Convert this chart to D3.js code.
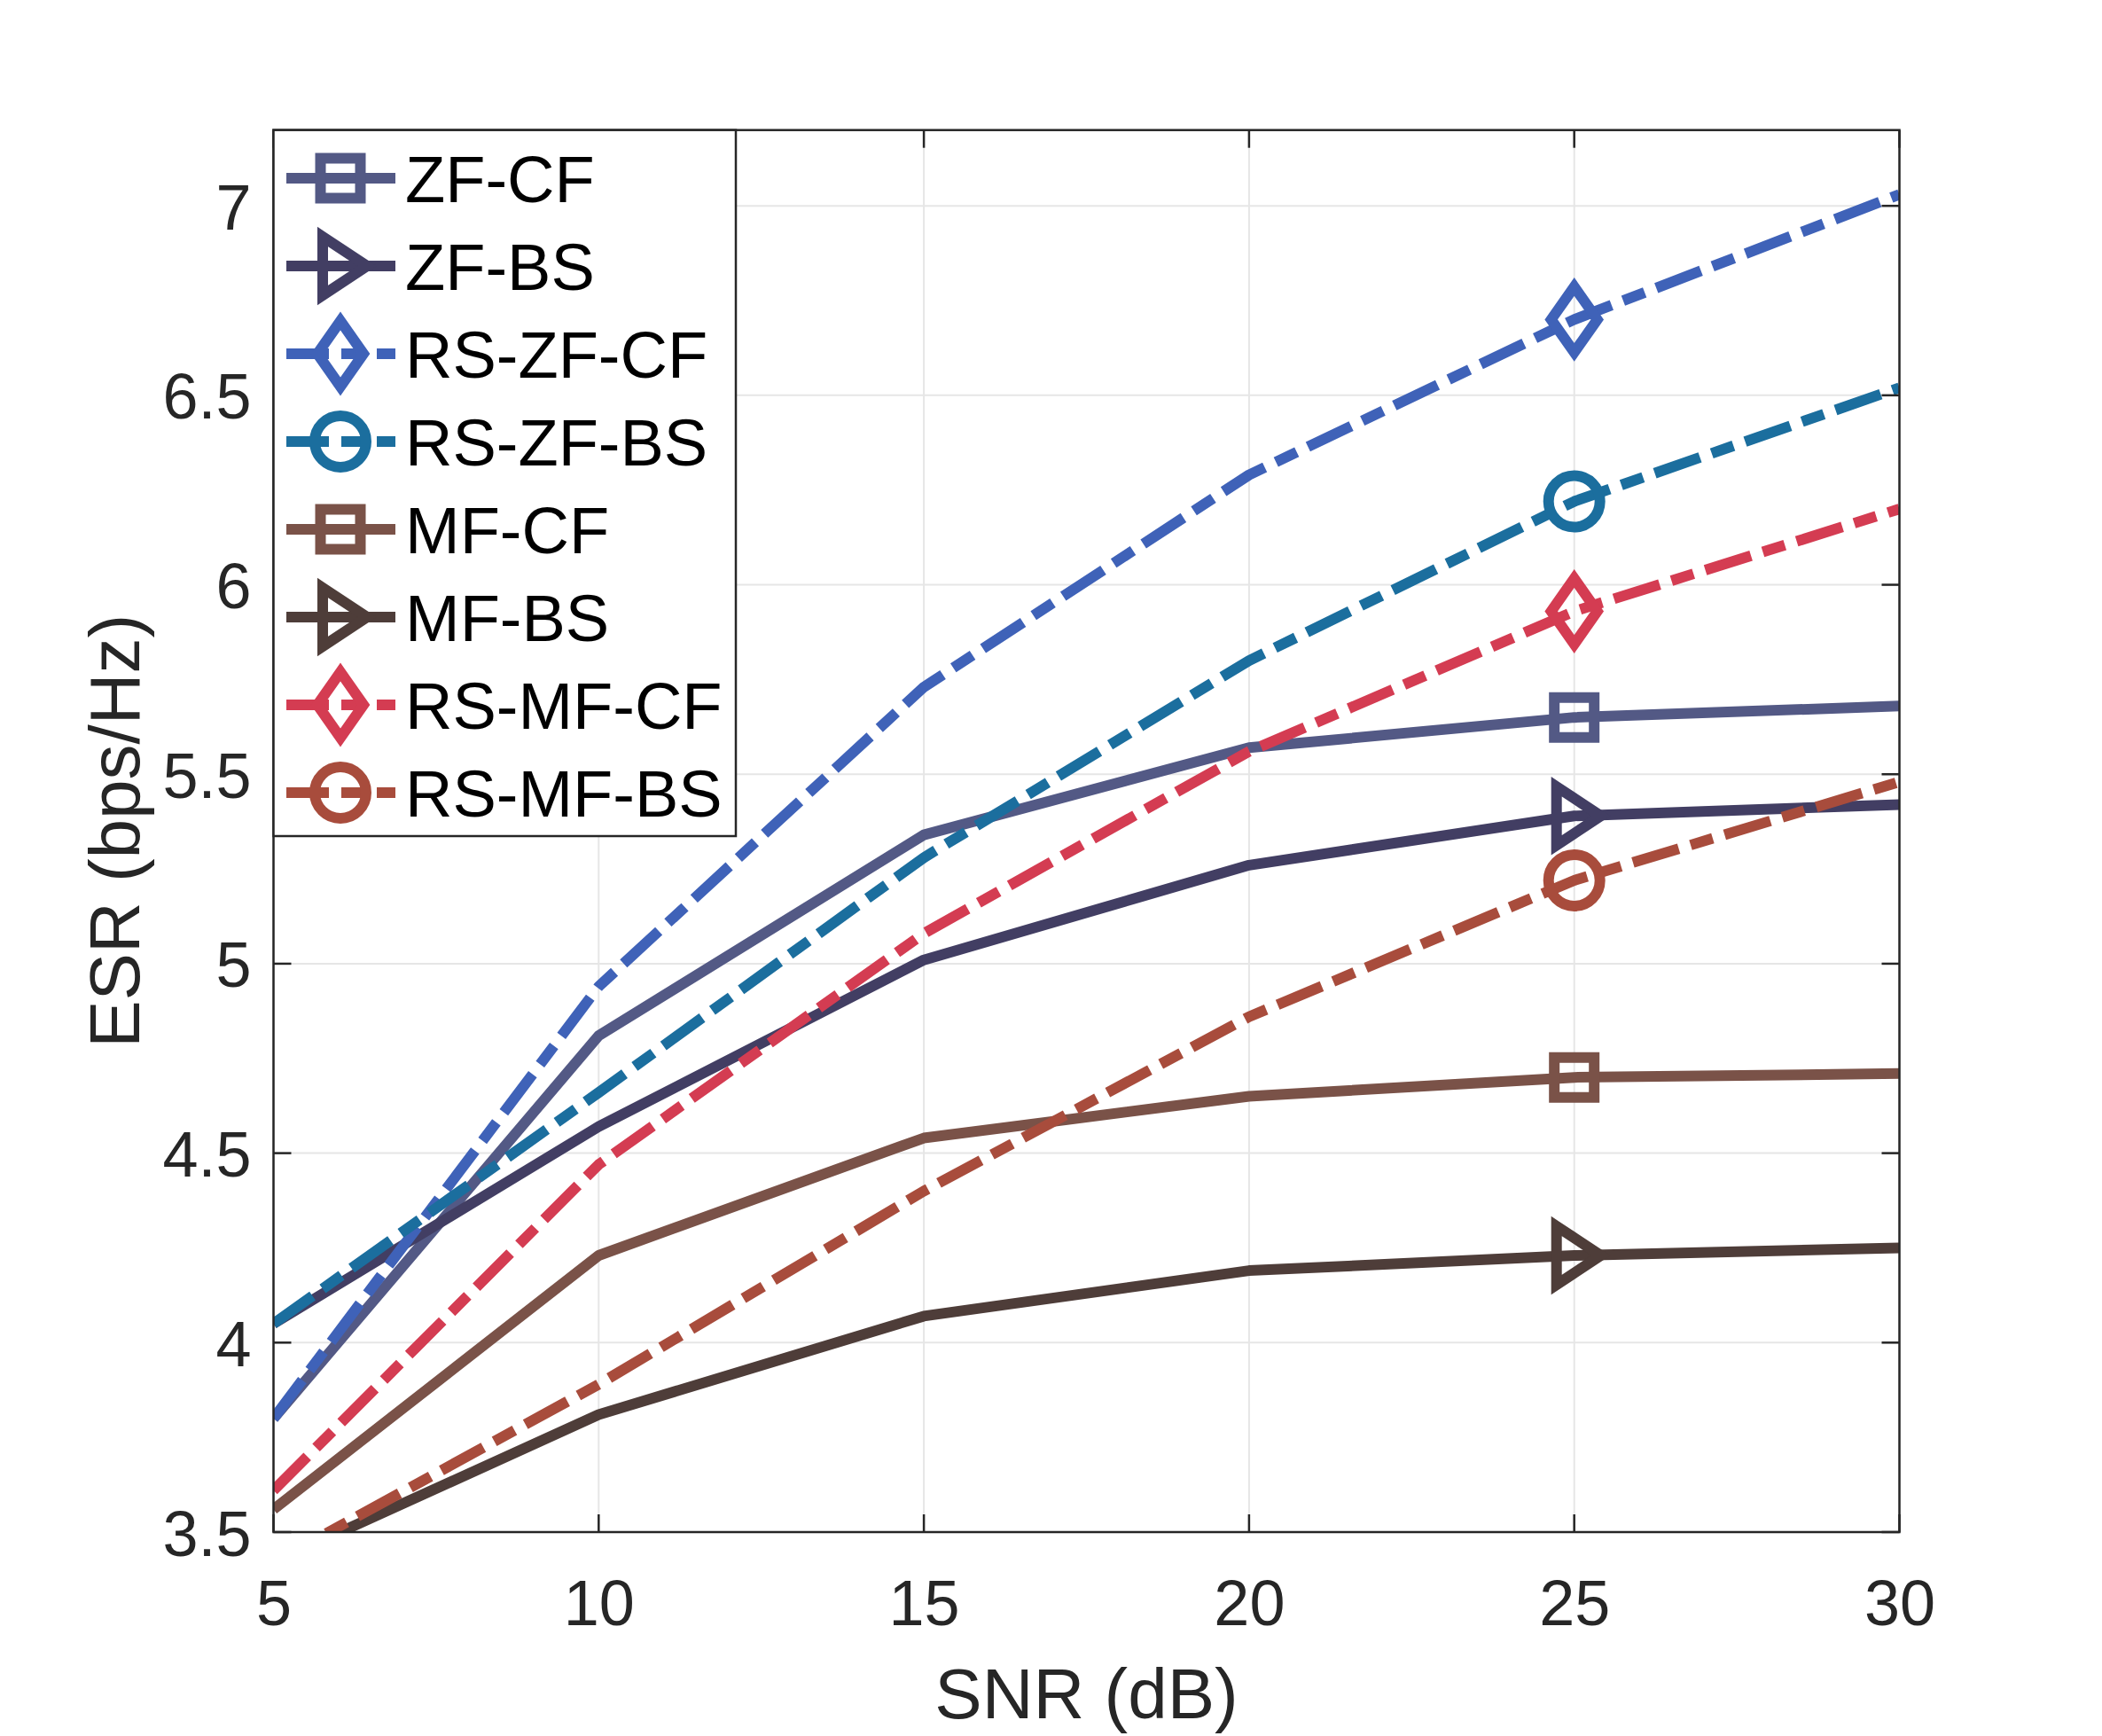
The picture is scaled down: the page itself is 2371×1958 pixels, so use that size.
<!DOCTYPE html>
<html>
<head>
<meta charset="utf-8">
<script src="https://cdn.jsdelivr.net/npm/d3@7"></script>
<style>
  body { margin: 0; background: #ffffff; }
  svg { display: block; }
  text { font-family: "Liberation Sans", Arial, Helvetica, sans-serif; }
</style>
</head>
<body>
<svg></svg>
<script>
// SNR points (dB)
let snr = [5, 10, 15, 20, 25, 30]

// ESR values (bps/Hz)
let zfCF    = [3.80, 4.81, 5.34, 5.57, 5.65, 5.68]
let zfBS    = [4.05, 4.57, 5.01, 5.26, 5.39, 5.42]
let rsZfCF  = [3.80, 4.94, 5.73, 6.29, 6.70, 7.03]
let rsZfBS  = [4.05, 4.66, 5.28, 5.80, 6.22, 6.52]
let mfCF    = [3.56, 4.23, 4.54, 4.65, 4.70, 4.71]
let mfBS    = [3.42, 3.81, 4.07, 4.19, 4.23, 4.25]
let rsMfCF  = [3.61, 4.47, 5.08, 5.56, 5.93, 6.20]
let rsMfBS  = [3.42, 3.89, 4.40, 4.86, 5.22, 5.48]

let seriesNames = ['ZF-CF', 'ZF-BS', 'RS-ZF-CF', 'RS-ZF-BS', 'MF-CF', 'MF-BS', 'RS-MF-CF', 'RS-MF-BS']
let seriesValues = [zfCF, zfBS, rsZfCF, rsZfBS, mfCF, mfBS, rsMfCF, rsMfBS]

// tick labels
let xTicks = [5, 10, 15, 20, 25, 30]
let yTicks = [3.5, 4, 4.5, 5, 5.5, 6, 6.5, 7]

// the one SNR where each curve carries its marker
let markerAt = 25

// line styling for each series
let colors = ['#535985', '#423e63', '#3f62b8', '#1b6e9e', '#7a5248', '#4e3d39', '#d43c52', '#a84c3c']
let markers = ['square', 'triangle', 'diamond', 'circle', 'square', 'triangle', 'diamond', 'circle']
let dashed = [false, false, true, true, false, false, true, true]

let width = 2371
let height = 1958
// plot box
let plotLeft = 308.5
let plotRight = 2142.5
let plotTop = 146.7
let plotBottom = 1728

let lineWidth = 12
let dashPattern = '54,14,26,14'
let axisColor = '#262626'

let svg = d3.select('svg')
            .attr('width', width)
            .attr('height', height)

let xScale = d3.scaleLinear()
               .domain([5, 30])
               .range([plotLeft, plotRight])

let yScale = d3.scaleLinear()
               .domain([3.5, 7.2])
               .range([plotBottom, plotTop])

// marker outlines centred on 0,0
let markerPath = (type) => {
    if (type === 'square') return 'M-22.5,-22.5H22.5V22.5H-22.5Z'
    if (type === 'triangle') return 'M-20,-33L30,0L-20,33Z'
    if (type === 'diamond') return 'M0,-37L26,0L0,37L-26,0Z'
    return 'M-29,0A29,29 0 1,0 29,0A29,29 0 1,0 -29,0Z'
}

let drawGrid = () => {
    let grid = svg.append('g').attr('stroke', '#e6e6e6').attr('stroke-width', 2)

    grid.selectAll('.vgrid')
        .data(xTicks)
        .enter()
        .append('line')
        .attr('x1', (d) => xScale(d))
        .attr('x2', (d) => xScale(d))
        .attr('y1', plotTop)
        .attr('y2', plotBottom)

    grid.selectAll('.hgrid')
        .data(yTicks)
        .enter()
        .append('line')
        .attr('x1', plotLeft)
        .attr('x2', plotRight)
        .attr('y1', (d) => yScale(d))
        .attr('y2', (d) => yScale(d))
}

let drawLines = () => {
    // keep the curves inside the axes like matlab does
    svg.append('clipPath')
       .attr('id', 'plotClip')
       .append('rect')
       .attr('x', plotLeft)
       .attr('y', plotTop)
       .attr('width', plotRight - plotLeft)
       .attr('height', plotBottom - plotTop)

    let line = d3.line()
                 .x((d, i) => xScale(snr[i]))
                 .y((d) => yScale(d))

    let plot = svg.append('g').attr('clip-path', 'url(#plotClip)')

    seriesValues.forEach((values, s) => {
        plot.append('path')
            .attr('d', line(values))
            .attr('fill', 'none')
            .attr('stroke', colors[s])
            .attr('stroke-width', lineWidth)
            .attr('stroke-linejoin', 'round')
            .attr('stroke-dasharray', dashed[s] ? dashPattern : null)

        let idx = snr.indexOf(markerAt)
        plot.append('path')
            .attr('d', markerPath(markers[s]))
            .attr('transform', 'translate(' + xScale(markerAt) + ',' + yScale(values[idx]) + ')')
            .attr('fill', 'none')
            .attr('stroke', colors[s])
            .attr('stroke-width', lineWidth)
    })
}

let drawAxes = () => {
    let xAxis = d3.axisBottom(xScale).tickValues(xTicks).tickSize(0).tickPadding(0)
    let yAxis = d3.axisLeft(yScale).tickValues(yTicks).tickSize(0).tickPadding(0)
                  .tickFormat((d) => d)

    // box round the plot
    svg.append('rect')
       .attr('x', plotLeft)
       .attr('y', plotTop)
       .attr('width', plotRight - plotLeft)
       .attr('height', plotBottom - plotTop)
       .attr('fill', 'none')
       .attr('stroke', axisColor)
       .attr('stroke-width', 2.5)

    // inward ticks on all four sides
    let ticks = svg.append('g').attr('stroke', axisColor).attr('stroke-width', 2.5)
    xTicks.forEach((t) => {
        ticks.append('line').attr('x1', xScale(t)).attr('x2', xScale(t)).attr('y1', plotBottom).attr('y2', plotBottom - 20)
        ticks.append('line').attr('x1', xScale(t)).attr('x2', xScale(t)).attr('y1', plotTop).attr('y2', plotTop + 20)
    })
    yTicks.forEach((t) => {
        ticks.append('line').attr('x1', plotLeft).attr('x2', plotLeft + 20).attr('y1', yScale(t)).attr('y2', yScale(t))
        ticks.append('line').attr('x1', plotRight).attr('x2', plotRight - 20).attr('y1', yScale(t)).attr('y2', yScale(t))
    })

    let gx = svg.append('g')
                .call(xAxis)
                .attr('transform', 'translate(0, ' + plotBottom + ')')
    gx.select('.domain').remove()
    gx.selectAll('text')
      .attr('y', 105)
      .attr('dy', null)
      .attr('font-size', 72)
      .attr('font-family', '"Liberation Sans", Arial, sans-serif')
      .attr('fill', axisColor)

    let gy = svg.append('g')
                .call(yAxis)
                .attr('transform', 'translate(' + plotLeft + ', 0)')
    gy.select('.domain').remove()
    gy.selectAll('text')
      .attr('x', -25)
      .attr('dy', 26)
      .attr('font-size', 72)
      .attr('font-family', '"Liberation Sans", Arial, sans-serif')
      .attr('fill', axisColor)

    svg.append('text')
       .attr('x', (plotLeft + plotRight) / 2)
       .attr('y', 1938)
       .attr('text-anchor', 'middle')
       .attr('font-size', 80)
       .attr('fill', axisColor)
       .text('SNR (dB)')

    svg.append('text')
       .attr('transform', 'translate(157, ' + ((plotTop + plotBottom) / 2) + ') rotate(-90)')
       .attr('text-anchor', 'middle')
       .attr('font-size', 80)
       .attr('fill', axisColor)
       .text('ESR (bps/Hz)')
}

let drawLegend = () => {
    let legend = svg.append('g')

    legend.append('rect')
          .attr('x', plotLeft)
          .attr('y', plotTop)
          .attr('width', 830 - plotLeft)
          .attr('height', 943 - plotTop)
          .attr('fill', '#ffffff')
          .attr('stroke', axisColor)
          .attr('stroke-width', 2.5)

    seriesNames.forEach((name, s) => {
        let cy = 201 + s * 99
        legend.append('line')
              .attr('x1', 323)
              .attr('x2', 446)
              .attr('y1', cy)
              .attr('y2', cy)
              .attr('stroke', colors[s])
              .attr('stroke-width', lineWidth)
              .attr('stroke-dasharray', dashed[s] ? '48,14,26,14' : null)
        legend.append('path')
              .attr('d', markerPath(markers[s]))
              .attr('transform', 'translate(384,' + cy + ')')
              .attr('fill', 'none')
              .attr('stroke', colors[s])
              .attr('stroke-width', lineWidth)
        legend.append('text')
              .attr('x', 457)
              .attr('y', cy + 26.5)
              .attr('font-size', 74)
              .attr('fill', '#000000')
              .text(name)
    })
}

drawGrid()
drawLines()
drawAxes()
drawLegend()
</script>
</body>
</html>
